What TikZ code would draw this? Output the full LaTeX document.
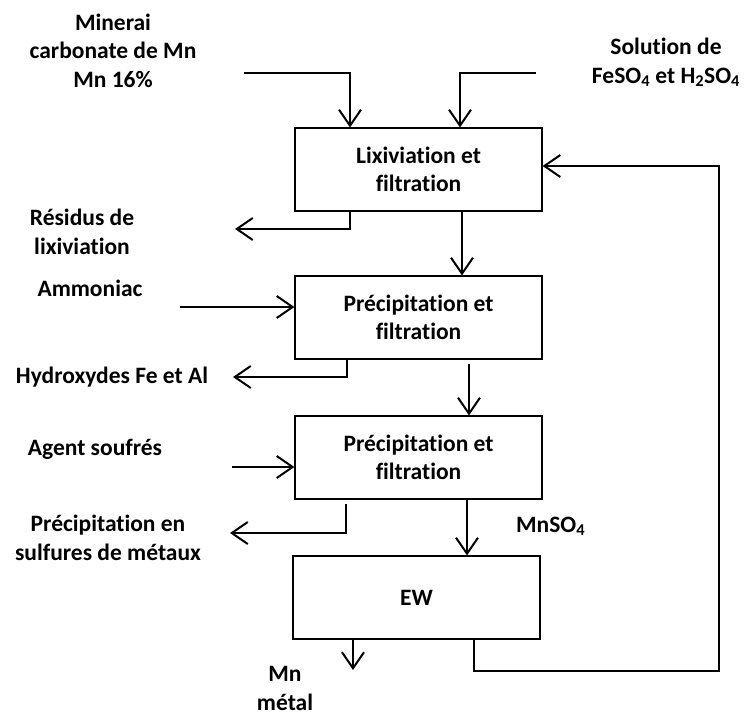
\documentclass[tikz,border=0pt]{standalone}
\usepackage{fontspec}
\setmainfont{Carlito}[Ligatures=NoCommon]
\usetikzlibrary{arrows.meta}
\begin{document}
\begin{tikzpicture}[x=1pt, y=-1pt,
  font=\fontsize{23.5}{28.5}\selectfont\bfseries,
  >={Straight Barb[length=16pt, width=22pt]},
  proc/.style={draw, line width=1.1pt, minimum width=247pt, minimum height=83pt,
               inner sep=0pt, align=center},
  lab/.style={align=center, anchor=base, inner sep=0pt},
  flux/.style={->, line width=2pt},
]
  \useasboundingbox (0,0) rectangle (744,715);
  % etapes du procede, de haut en bas
  \foreach \xn/\xx/\xy/\xtxt in {%
    0/418.5/169.5/{Lixiviation et\\filtration},%
    1/418.5/317.5/{Précipitation et\\filtration},%
    2/418.5/457.5/{Précipitation et\\filtration},%
    3/416.5/597.5/{EW}%
  } {
    \node[proc] (B\xn) at (\xx,\xy) {\xtxt};
  }

  \node[lab] (mine) at (113,87) {Minerai\\carbonate de Mn\\Mn 16\%};
  \node[lab] (solu) at (666,83) {Solution de\\FeSO\textsubscript{4} et H\textsubscript{2}SO\textsubscript{4}};
  \node[lab] (resi) at (82,254) {Résidus de\\lixiviation};
  \node[lab] (ammo) at (90,296) {Ammoniac};
  \node[lab] (hydr) at (112,383) {Hydroxydes Fe et Al};
  \node[lab] (agen) at (95,455) {Agent soufrés};
  \node[lab] (sulf) at (108,560) {Précipitation en\\sulfures de métaux};
  \node[lab, anchor=base west] (mnso) at (516,532) {MnSO\textsubscript{4}};
  \node[lab] (mnme) at (285,710) {Mn\\métal};

  \coordinate (minS) at (244,73);
  \coordinate (solS) at (536,73);
  \coordinate (resE) at (235,229);
  \coordinate (ammS) at (180,307);
  \coordinate (hydE) at (233,377);
  \coordinate (agtS) at (232,467);
  \coordinate (sulE) at (230,533);
  \coordinate (mnE) at (353,670);
  \coordinate (recC) at (719,671);

  \draw[flux] (minS) -| ([xshift=-68.5pt]B0.north);
  \draw[flux] (solS) -| ([xshift=41.5pt]B0.north);
  \draw[flux] ([xshift=-68.5pt]B0.south) |- (resE);
  \draw[flux] ([xshift=43.5pt]B0.south) -- ([xshift=43.5pt]B1.north);
  \draw[flux] (ammS) -- (B1.west |- ammS);
  \draw[flux] ([xshift=-71.5pt]B1.south) |- (hydE);
  \draw[flux] ([xshift=50.5pt,yshift=-4pt]B1.south) -- ([xshift=50.5pt]B2.north);
  \draw[flux] (agtS) -- (B2.west |- agtS);
  \draw[flux] ([xshift=-72.5pt,yshift=-4pt]B2.south) |- (sulE);
  \draw[flux] ([xshift=48.5pt]B2.south) -- ([xshift=50.5pt]B3.north);
  \draw[flux] ([xshift=-63.5pt]B3.south) -- (mnE);
  \draw[flux] ([xshift=57.5pt]B3.south) |- (recC) |- ([yshift=3.5pt]B0.east);
\end{tikzpicture}
\end{document}
